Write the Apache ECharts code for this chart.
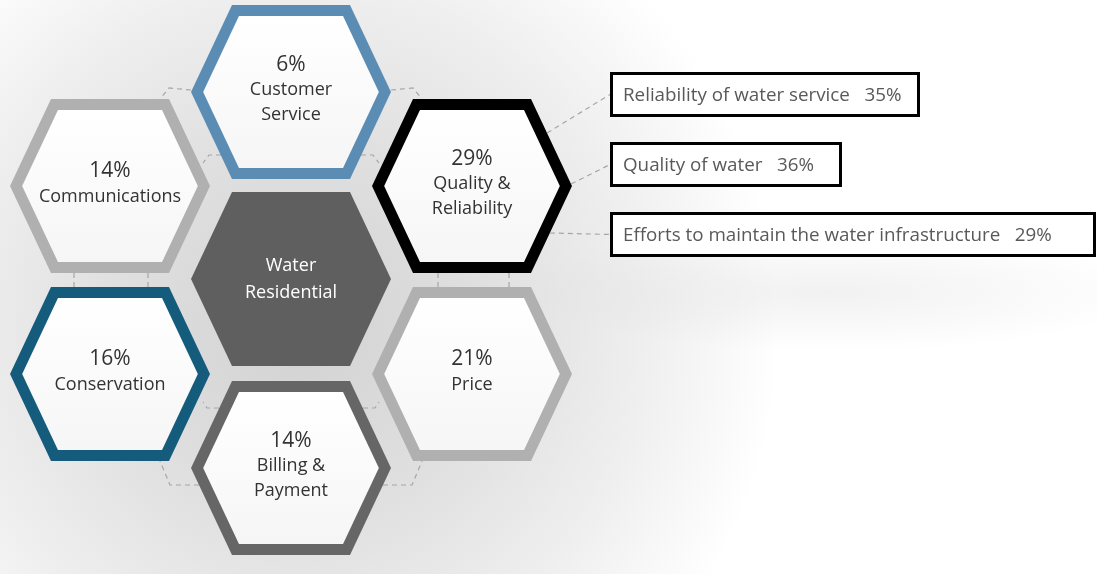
<!DOCTYPE html>
<html>
<head>
<meta charset="utf-8">
<script src="https://cdn.jsdelivr.net/npm/echarts@6/dist/echarts.min.js"></script>
<style>html,body{margin:0;padding:0;background:#fff}#c{width:1097px;height:574px}</style>
</head>
<body>
<div id="c"></div>
<script>
// ---- data ----
const categories = ['Customer\nService', 'Quality &\nReliability', 'Price', 'Billing &\nPayment', 'Conservation', 'Communications'];
const values = [6, 29, 21, 14, 16, 14];
const centerLabel = 'Water\nResidential';
const subCategories = ['Reliability of water service', 'Quality of water', 'Efforts to maintain the water infrastructure'];
const subValues = [35, 36, 29];

// ---- layout / style (not data) ----
const CX = 291, CY = 280, DX = 181, DY = 94;
const slots = [[0, -2], [1, -1], [1, 1], [0, 2], [-1, 1], [-1, -1]];
const ringColors = ['#5b8db4', '#000000', '#b0b0b0', '#666666', '#155b7c', '#b0b0b0'];
const HW = 100, HT = 59, HH = 87, BORDER = 11;
const FONT = "'Open Sans', 'Noto Sans', sans-serif";
const detailOf = 1; // index of hex with breakdown
const boxLeft = 610, boxTop0 = 72, boxGap = 70, boxH = 45;
const boxW = [310, 232, 486];
const startDy = [-53, -2, 47];

function hexCenter(i) { return [CX + slots[i][0] * DX, CY + slots[i][1] * DY]; }
function hexPts(cx, cy) {
  return [[cx - HW, cy], [cx - HT, cy - HH], [cx + HT, cy - HH], [cx + HW, cy], [cx + HT, cy + HH], [cx - HT, cy + HH]];
}
function inset(pts, d) {
  const n = pts.length;
  let gx = 0, gy = 0; pts.forEach(p => { gx += p[0] / n; gy += p[1] / n; });
  const lines = [];
  for (let i = 0; i < n; i++) {
    const a = pts[i], b = pts[(i + 1) % n];
    let nx = -(b[1] - a[1]), ny = b[0] - a[0];
    const L = Math.hypot(nx, ny); nx /= L; ny /= L;
    const mx = (a[0] + b[0]) / 2, my = (a[1] + b[1]) / 2;
    if ((gx - mx) * nx + (gy - my) * ny < 0) { nx = -nx; ny = -ny; }
    lines.push({ p: [a[0] + nx * d, a[1] + ny * d], v: [b[0] - a[0], b[1] - a[1]] });
  }
  const out = [];
  for (let i = 0; i < n; i++) {
    const l1 = lines[(i - 1 + n) % n], l2 = lines[i];
    const den = l1.v[0] * l2.v[1] - l1.v[1] * l2.v[0];
    const t = ((l2.p[0] - l1.p[0]) * l2.v[1] - (l2.p[1] - l1.p[1]) * l2.v[0]) / den;
    out.push([l1.p[0] + l1.v[0] * t, l1.p[1] + l1.v[1] * t]);
  }
  return out;
}
function edgeX(dy) { return HW - (HW - HT) * Math.abs(dy) / HH; }

// decorative dashed joints between neighbouring hexes: [hexIndex, dx, dy]
const joints = [
  [[0, -100, -2], [0, -122, -4], [5, 50, -87]],
  [[0, 100, -2], [0, 122, -4], [1, -50, -87]],
  [[5, -36, 87], [4, -36, -87]],
  [[5, 38, 87], [4, 38, -87]],
  [[1, -34, 87], [2, -34, -87]],
  [[1, 37, 87], [2, 37, -87]],
  [[3, -92, 17], [3, -121, 17], [4, 50, 87]],
  [[3, 92, 17], [3, 121, 17], [2, -50, 87]],
  [[0, -70, 63], [0, -82, 63], [0, -88, 71]],
  [[0, 70, 63], [0, 82, 63], [0, 88, 71]],
  [[3, -72, -60], [3, -84, -60], [3, -88, -66]],
  [[3, 72, -60], [3, 84, -60], [3, 88, -66]]
];

const chart = echarts.init(document.getElementById('c'), null, { renderer: 'canvas' });

const ringData = categories.map((c, i) => { const h = hexCenter(i); return [h[0], h[1], values[i], i]; });

const option = {
  animation: false,
  backgroundColor: '#ffffff',
  graphic: [{
    type: 'rect', z: -10, silent: true,
    shape: { x: 0, y: 0, width: 1097, height: 574 },
    style: {
      fill: {
        type: 'radial', x: 300, y: 330, r: 480, global: true,
        colorStops: [
          { offset: 0, color: '#d2d2d2' },
          { offset: 0.4, color: '#e0e0e0' },
          { offset: 0.72, color: '#efefef' },
          { offset: 1, color: '#ffffff' }
        ]
      }
    }
  }, {
    type: 'circle', z: -9, silent: true,
    shape: { cx: 0, cy: 0, r: 100 }, x: 830, y: 292, scaleX: 3.2, scaleY: 0.6,
    style: {
      fill: {
        type: 'radial', x: 0.5, y: 0.5, r: 0.5,
        colorStops: [{ offset: 0, color: 'rgba(205,205,205,0.28)' }, { offset: 1, color: 'rgba(205,205,205,0)' }]
      }
    }
  }],
  grid: { left: 0, right: 0, top: 0, bottom: 0 },
  xAxis: { type: 'value', min: 0, max: 1097, show: false },
  yAxis: { type: 'value', min: 0, max: 574, inverse: true, show: false },
  series: [
    {
      type: 'custom', name: 'joints', silent: true, z: 1,
      data: joints.map((j, i) => [i]),
      renderItem: function (params, api) {
        const j = joints[api.value(0)];
        const pts = j.map(q => { const h = hexCenter(q[0]); return api.coord([h[0] + q[1], h[1] + q[2]]); });
        return { type: 'polyline', shape: { points: pts }, style: { stroke: '#a6a6a6', lineWidth: 1.2, lineDash: [5, 4], fill: null } };
      }
    },
    {
      type: 'custom', name: 'centre', silent: true, z: 2,
      data: [[CX, CY]],
      renderItem: function (params, api) {
        const p = api.coord([api.value(0), api.value(1)]);
        const lines = centerLabel.split('\n');
        const children = [{ type: 'polygon', shape: { points: hexPts(p[0], p[1] - 1) }, style: { fill: '#5f5f5f' } }];
        lines.forEach((t, k) => children.push({
          type: 'text', style: { text: t, x: p[0], y: p[1] - 1 + (k - (lines.length - 1) / 2) * 27, align: 'center', verticalAlign: 'middle', fill: '#ffffff', font: '18px ' + FONT }
        }));
        return { type: 'group', children: children };
      }
    },
    {
      type: 'custom', name: 'hexes', silent: true, z: 3,
      data: ringData,
      renderItem: function (params, api) {
        const p = api.coord([api.value(0), api.value(1)]);
        const i = api.value(3);
        const outer = hexPts(p[0], p[1]);
        const inner = inset(outer, BORDER);
        const children = [
          { type: 'polygon', shape: { points: outer }, style: { fill: ringColors[i] } },
          { type: 'polygon', shape: { points: inner }, style: { fill: { type: 'linear', x: 0, y: 0, x2: 0, y2: 1, colorStops: [{ offset: 0, color: '#ffffff' }, { offset: 1, color: '#f6f6f6' }] } } }
        ];
        const lines = [api.value(2) + '%'].concat(categories[i].split('\n'));
        const mid = p[1] - 2;
        lines.forEach((t, k) => children.push({
          type: 'text', style: {
            text: t, x: p[0], y: mid + (k - (lines.length - 1) / 2) * 25, align: 'center', verticalAlign: 'middle',
            fill: '#333333', font: (k === 0 ? '21px ' : '18px ') + FONT
          }
        }));
        return { type: 'group', children: children };
      }
    },
    {
      type: 'custom', name: 'breakdown', silent: true, z: 4,
      data: subCategories.map((s, i) => [i, subValues[i]]),
      renderItem: function (params, api) {
        const i = api.value(0);
        const h = hexCenter(detailOf);
        const top = boxTop0 + i * boxGap;
        const a = api.coord([h[0] + edgeX(startDy[i]), h[1] + startDy[i]]);
        const b = api.coord([boxLeft, top + boxH / 2]);
        const tl = api.coord([boxLeft, top]);
        return {
          type: 'group', children: [
            { type: 'line', shape: { x1: a[0], y1: a[1], x2: b[0], y2: b[1] }, style: { stroke: '#a6a6a6', lineWidth: 1.2, lineDash: [5, 4] } },
            { type: 'rect', shape: { x: tl[0] + 1.5, y: tl[1] + 1.5, width: boxW[i] - 3, height: boxH - 3 }, style: { fill: '#ffffff', stroke: '#000000', lineWidth: 3 } },
            { type: 'text', style: { text: subCategories[i] + '   ' + api.value(1) + '%', x: tl[0] + 13, y: tl[1] + boxH / 2 + 1, align: 'left', verticalAlign: 'middle', fill: '#595959', font: '18.8px ' + FONT } }
          ]
        };
      }
    }
  ]
};
chart.setOption(option);
</script>
</body>
</html>
